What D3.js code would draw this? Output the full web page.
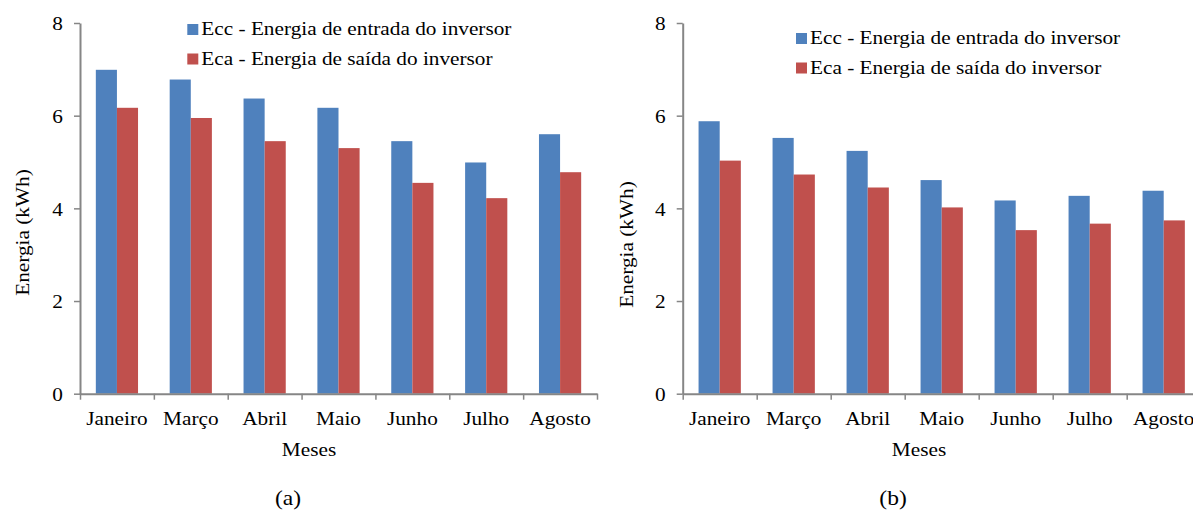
<!DOCTYPE html>
<html><head><meta charset="utf-8">
<script src="https://cdn.jsdelivr.net/npm/d3@7"></script>
<style>body{margin:0;background:#fff}svg{display:block}</style>
</head><body>
<svg id="c" width="1193" height="511"></svg>
<script>
const categories = ["Janeiro","Março","Abril","Maio","Junho","Julho","Agosto"];
const eccA = [6.99, 6.78, 6.37, 6.17, 5.45, 4.99, 5.60];
const ecaA = [6.17, 5.95, 5.45, 5.30, 4.55, 4.22, 4.78];
const eccB = [5.88, 5.52, 5.24, 4.61, 4.17, 4.27, 4.38];
const ecaB = [5.03, 4.73, 4.45, 4.02, 3.53, 3.67, 3.74];
const yTicks = [0, 2, 4, 6, 8];
const seriesNames = ["Ecc - Energia de entrada do inversor", "Eca - Energia de saída do inversor"];
const seriesColors = ["#4F81BD", "#C0504D"];
const yTitle = "Energia (kWh)";
const xTitle = "Meses";
const captions = ["(a)", "(b)"];

const FONT = "Liberation Serif, Times New Roman, serif";
const FS = 19, SX = 1.12, AX = "#868686";
const svg = d3.select("#c");

function panel(opt) {
  const {x0, x1, yTop, yBot, ecc, eca, legX, legY, yTitleX, yTitleY, xTitleX, capX} = opt;
  const y = d3.scaleLinear().domain([0, 8]).range([yBot, yTop]);
  const x = d3.scaleBand().domain(categories).range([x0, x1]).padding(0);
  const xs = d3.scaleBand().domain([0, 1]).range([0, x.bandwidth()]).paddingInner(0).paddingOuter(0.75);
  const xEdge = d3.scaleLinear().domain([0, categories.length]).range([x0, x1]);
  const g = svg.append("g");

  // bars
  [ecc, eca].forEach((vals, si) => {
    g.append("g").selectAll("rect").data(vals).join("rect")
      .attr("x", (d, i) => x(categories[i]) + xs(si))
      .attr("width", xs.bandwidth())
      .attr("y", d => y(d))
      .attr("height", d => y(0) - y(d))
      .attr("fill", seriesColors[si]);
  });

  // y axis
  const ya = g.append("g").attr("transform", `translate(${x0},0)`)
    .call(d3.axisLeft(y).tickValues(yTicks).tickSize(6).tickSizeOuter(0).tickFormat(d3.format("d")));
  ya.select(".domain").attr("stroke", AX).attr("stroke-width", 2);
  ya.selectAll(".tick line").attr("stroke", AX).attr("stroke-width", 1.5);
  ya.selectAll(".tick text").attr("x", 0).attr("dy", "0.35em")
    .attr("transform", `translate(-17,0) scale(${SX},1)`)
    .attr("font-family", FONT).attr("font-size", FS).attr("fill", "#000");

  // x axis edges
  const xe = g.append("g").attr("transform", `translate(0,${yBot})`)
    .call(d3.axisBottom(xEdge).tickValues(d3.range(categories.length + 1)).tickSize(6).tickSizeOuter(0).tickFormat(""));
  xe.select(".domain").attr("stroke", AX).attr("stroke-width", 2);
  xe.selectAll(".tick line").attr("stroke", AX).attr("stroke-width", 1.5);

  // x labels
  const xl = g.append("g").attr("transform", `translate(0,${yBot})`)
    .call(d3.axisBottom(x).tickSize(0).tickSizeOuter(0));
  xl.select(".domain").remove();
  xl.selectAll(".tick text").attr("y", 0).attr("dy", null)
    .attr("transform", `translate(0,31) scale(${SX},1)`)
    .attr("font-family", FONT).attr("font-size", FS).attr("fill", "#000");

  // titles
  g.append("text").attr("transform", `translate(${yTitleX},${yTitleY}) rotate(-90) scale(${SX},1)`)
    .attr("text-anchor", "middle").attr("dy", "0.35em")
    .attr("font-family", FONT).attr("font-size", FS).text(yTitle);
  g.append("text").attr("transform", `translate(${xTitleX},${yBot + 62}) scale(${SX},1)`)
    .attr("text-anchor", "middle")
    .attr("font-family", FONT).attr("font-size", FS).text(xTitle);
  g.append("text").attr("transform", `translate(${capX},505) scale(${SX},1)`)
    .attr("text-anchor", "middle")
    .attr("font-family", FONT).attr("font-size", 21).text(opt.cap);

  // legend
  seriesNames.forEach((nm, i) => {
    const ly = legY + i * 29.5;
    g.append("rect").attr("x", legX).attr("y", ly - 11).attr("width", 11).attr("height", 11).attr("fill", seriesColors[i]);
    g.append("text").attr("transform", `translate(${legX + 14},${ly}) scale(${SX},1)`)
      .attr("font-family", FONT).attr("font-size", FS).text(nm);
  });
}

panel({x0: 80, x1: 597, yTop: 23, yBot: 393.7, ecc: eccA, eca: ecaA,
  legX: 187.3, legY: 35, yTitleX: 22.5, yTitleY: 232.5, xTitleX: 309, capX: 288, cap: captions[0]});
panel({x0: 682.7, x1: 1200.7, yTop: 23, yBot: 393.7, ecc: eccB, eca: ecaB,
  legX: 796, legY: 44, yTitleX: 626, yTitleY: 244.5, xTitleX: 919, capX: 893, cap: captions[1]});
</script>
</body></html>
